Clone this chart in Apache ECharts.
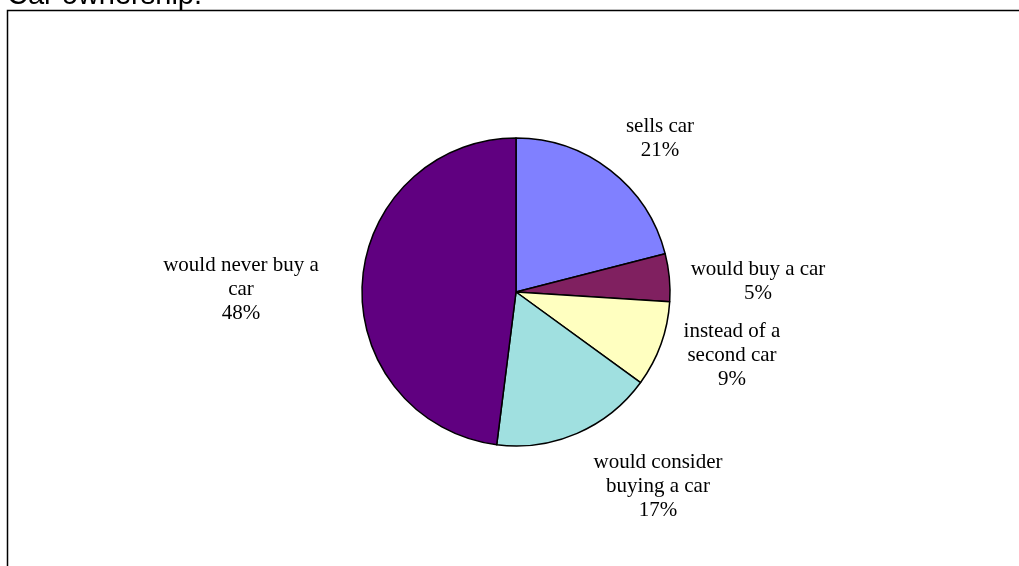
<!DOCTYPE html>
<html>
<head>
<meta charset="utf-8">
<style>
	html, body{
		margin: 0;
		padding: 0;
		background: #fff;
	}
	#chart{
		width: 1019px;
		height: 566px;
	}
</style>
</head>
<body>
<div id="chart"></div>
<script src="https://cdn.jsdelivr.net/npm/echarts@6/dist/echarts.min.js"></script>
<script>
// slices, clockwise from 12 o'clock
var categories = ['sells car', 'would buy a car', 'instead of a\nsecond car', 'would consider\nbuying a car', 'would never buy a\ncar'];
var shares = [21, 5, 9, 17, 48];
var colors = ['#8080ff', '#802060', '#ffffc0', '#a0e0e0', '#600080'];

// where the labels sit (centre of text block)
var labelPos = [[660, 138], [758, 281], [732, 355], [658, 486], [241, 289]];

var chart = echarts.init(document.getElementById('chart'));

var pieData = [];
for (var i = 0; i < categories.length; i++) {
	pieData.push({name: categories[i], value: shares[i], itemStyle: {color: colors[i]}});
}

option = {
	animation: false,
	title: {
		text: 'Car ownership.',
		left: 2,
		top: -24,
		textStyle: {
			fontFamily: 'Liberation Sans',
			fontSize: 29,
			fontWeight: 'normal',
			color: '#000'
		}
	},
	graphic: [{
		type: 'rect',
		shape: {x: 7.5, y: 10.5, width: 1100, height: 700},
		style: {fill: 'none', stroke: '#000', lineWidth: 1.5},
		silent: true
	}],
	series: [{
		type: 'pie',
		center: [516, 292],
		radius: 154,
		startAngle: 90,
		clockwise: true,
		avoidLabelOverlap: false,
		itemStyle: {
			borderColor: '#000',
			borderWidth: 1.5
		},
		label: {
			show: true,
			position: 'outside',
			fontFamily: 'Liberation Serif',
			fontSize: 21,
			lineHeight: 24,
			color: '#000',
			align: 'center',
			formatter: function (p) {
				return p.name + '\n' + Math.round(p.percent) + '%';
			}
		},
		labelLine: {show: false},
		labelLayout: function (params) {
			var pos = labelPos[params.dataIndex];
			return {
				x: pos[0],
				y: pos[1],
				align: 'center',
				verticalAlign: 'middle'
			};
		},
		emphasis: {disabled: true},
		data: pieData
	}]
};

chart.setOption(option);
</script>
</body>
</html>
